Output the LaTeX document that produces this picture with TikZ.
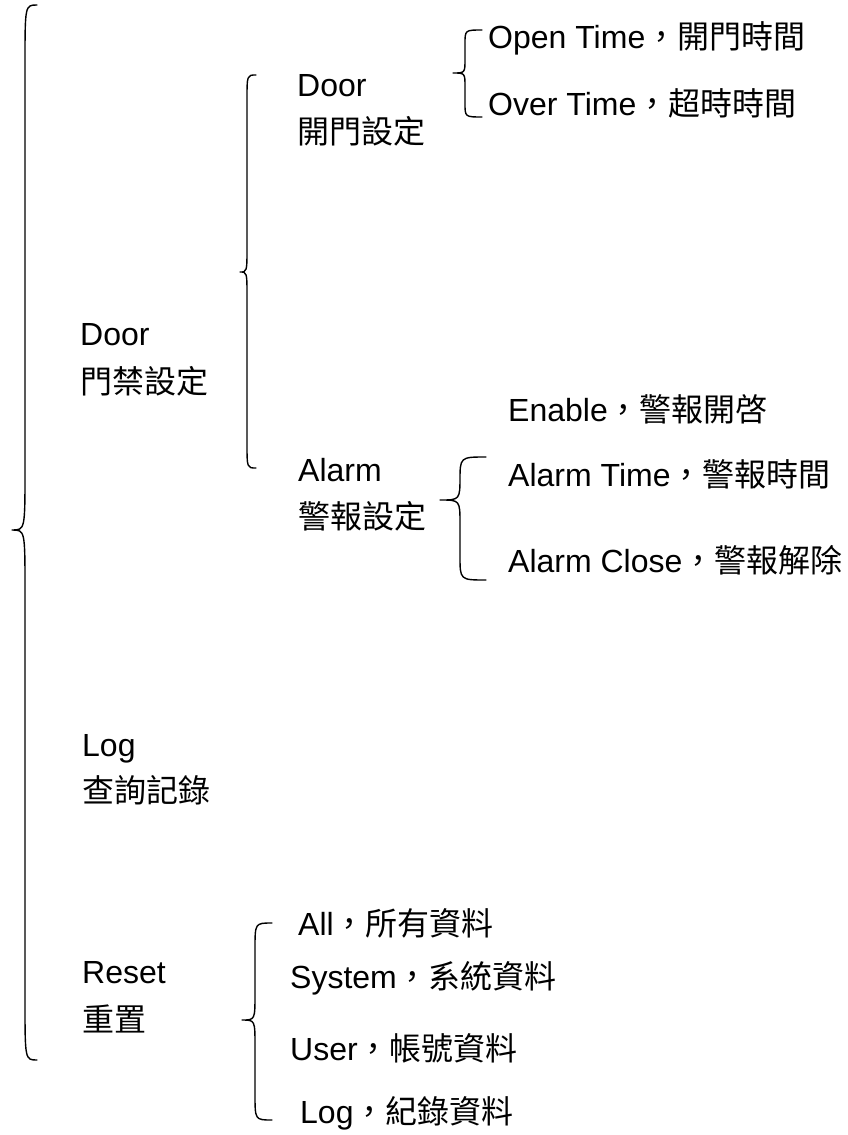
\documentclass[tikz,border=0pt]{standalone}
\usepackage{fontspec}
\setmainfont{Liberation Sans}
\newfontfamily\cjk{Noto Sans CJK TC}
\newcommand{\bracepath}[7]{% #1 top end x, #2 top y, #3 vertical x, #4 tip x, #5 tip y, #6 bottom y, #7 curl radius
  \draw[brc] (#1,#2) .. controls (#3,#2) .. (#3,#2+#7) -- (#3,#5-#7)
    .. controls (#3,#5) .. (#4,#5) .. controls (#3,#5) .. (#3,#5+#7)
    -- (#3,#6-#7) .. controls (#3,#6) .. (#1,#6);}
\begin{document}
\begin{tikzpicture}[x=1pt,y=-1pt,
  lbl/.style={anchor=base west,inner sep=0pt,font=\fontsize{32}{34}\selectfont},
  brc/.style={line width=1.4pt,line cap=round,line join=round}]
\useasboundingbox (0,0) rectangle (848,1135);
% level 1
\node[lbl] (door1) at (80,345) {Door};
\node[lbl] (door1c) at (80,393) {\cjk 門禁設定};
\node[lbl] (log1) at (82,756) {Log};
\node[lbl] (log1c) at (82,802) {\cjk 查詢記錄};
\node[lbl] (reset) at (82,983) {Reset};
\node[lbl] (resetc) at (82,1031) {\cjk 重置};
% level 2
\node[lbl] (door2) at (297,96) {Door};
\node[lbl] (door2c) at (297,143) {\cjk 開門設定};
\node[lbl] (alarm) at (298,481) {Alarm};
\node[lbl] (alarmc) at (298,528) {\cjk 警報設定};
% level 3
\node[lbl] (open) at (488,48) {Open Time{\cjk ，開門時間}};
\node[lbl] (over) at (488,115) {Over Time{\cjk ，超時時間}};
\node[lbl] (enable) at (508,421) {Enable{\cjk ，警報開啓}};
\node[lbl] (atime) at (508,486) {Alarm Time{\cjk ，警報時間}};
\node[lbl] (aclose) at (508,572) {Alarm Close{\cjk ，警報解除}};
\node[lbl] (all) at (298,935) {All{\cjk ，所有資料}};
\node[lbl] (sys) at (290,988) {System{\cjk ，系統資料}};
\node[lbl] (user) at (290,1060) {User{\cjk ，帳號資料}};
\node[lbl] (logr) at (300,1123) {Log{\cjk ，紀錄資料}};
% braces
\bracepath{37}{5}{25}{12}{530}{1060}{60}
\bracepath{256}{75}{247}{240}{272}{468}{25}
\bracepath{482}{30}{465}{453}{73}{117}{14}
\bracepath{486}{457}{460}{440}{500}{580}{24}
\bracepath{272}{923}{255}{242}{1020}{1120}{26}
\end{tikzpicture}
\end{document}
